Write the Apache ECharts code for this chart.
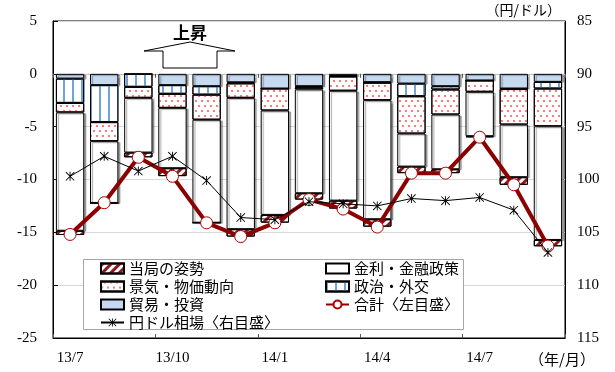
<!DOCTYPE html>
<html lang="ja">
<head>
<meta charset="utf-8">
<title>要因分解と円ドル相場</title>
<script src="https://cdn.jsdelivr.net/npm/echarts@6/dist/echarts.min.js"></script>
<style>
  html, body { margin: 0; padding: 0; background: #fff; }
  #chart { width: 615px; height: 372px; }
</style>
</head>
<body>
<div id="chart"></div>
<script>
// Months (yy/m)
var categories = ['13/7', '13/8', '13/9', '13/10', '13/11', '13/12', '14/1', '14/2', '14/3', '14/4', '14/5', '14/6', '14/7', '14/8', '14/9'];

// Factor contributions (left scale), stacked downward from zero in this order
var trade     = [-0.45, -1.07, 0.00, -1.07, -1.17, -0.80, -1.39, -1.17, -0.20, -0.79, -0.92, -1.17, -0.63, -1.39, -0.76];
var politics  = [-2.30, -3.50, -1.23, -0.82, -0.80, -0.10, 0.00, -0.10, -0.05, -0.05, -1.20, -0.31, 0.00, -0.05, -0.63];
var economy   = [-0.90, -1.80, -1.04, -1.33, -2.37, -1.37, -2.08, -0.20, -1.35, -1.65, -3.53, -2.37, -1.07, -3.36, -3.57];
var interest  = [-11.20, -5.85, -5.18, -5.71, -9.75, -12.43, -9.88, -9.83, -10.40, -11.27, -3.13, -5.18, -4.20, -4.98, -10.76];
var authority = [-0.40, 0.00, -0.45, -0.75, 0.00, -0.70, -0.73, -0.60, -0.75, -0.70, -0.62, -0.37, -0.10, -0.72, -0.60];

// Total (left scale)
var total = [-15.2, -12.2, -7.9, -9.7, -14.1, -15.4, -14.1, -11.9, -12.8, -14.5, -9.4, -9.4, -6.0, -10.5, -16.3];

// Yen per dollar (right scale, inverted)
var usdjpy = [99.7, 97.8, 99.2, 97.8, 100.1, 103.6, 103.8, 102.1, 102.3, 102.5, 101.8, 102.0, 101.7, 102.9, 106.9];

// Axis ticks
var leftTicks = { min: -25, max: 5, interval: 5 };
var rightTicks = { min: 85, max: 115, interval: 5 };

var NUM_FONT = 'Liberation Serif';
var JP_FONT = 'Noto Sans CJK JP';

var DARK_RED = '#8B0000';

// plain segments get a soft drop shadow; patterned ones don't,
// since the shadow would also be cast by every stripe/dot of the pattern
var plainStyle = {
  borderColor: '#000',
  borderWidth: 1,
  shadowColor: 'rgba(0,0,0,0.35)',
  shadowBlur: 1,
  shadowOffsetX: 2,
  shadowOffsetY: 1
};
var patternStyle = {
  borderColor: '#000',
  borderWidth: 1
};

function barSeries(name, data, base, style) {
  return {
    name: name,
    type: 'bar',
    stack: 'factors',
    data: data,
    barCategoryGap: '17%',
    z: 2,
    itemStyle: Object.assign({}, base, style)
  };
}

var asterisk = 'path://M4.5,0H5.5V10H4.5Z M0,0.7L0.7,0L10,9.3L9.3,10Z M9.3,0L10,0.7L0.7,10L0,9.3Z';

var legendText = { color: '#000', fontFamily: JP_FONT, fontSize: 15, lineHeight: 15 };

var chart = echarts.init(document.getElementById('chart'), null, { renderer: 'canvas' });

chart.setOption({
  animation: false,
  backgroundColor: '#fff',
  grid: {
    left: 53, right: 50, top: 21, bottom: 34,
    show: true, borderColor: '#000', borderWidth: 1, backgroundColor: 'transparent'
  },
  xAxis: [
    {
      type: 'category', data: categories, position: 'bottom',
      axisLine: { onZero: false, lineStyle: { color: '#000', width: 1 } },
      axisTick: { show: false },
      axisLabel: { interval: 2, margin: 13, color: '#000', fontFamily: NUM_FONT, fontSize: 15 },
      name: '（年/月）', nameLocation: 'end', nameGap: 0,
      nameTextStyle: { color: '#000', fontFamily: JP_FONT, fontSize: 15, align: 'right', verticalAlign: 'top', padding: [14, -30, 0, 0] }
    },
    {
      type: 'category', data: categories, position: 'bottom',
      axisLine: { onZero: true, lineStyle: { color: '#BFBFBF', width: 1 } },
      axisTick: { show: true, interval: 2, length: 4, lineStyle: { color: '#595959' } },
      axisLabel: { show: false }
    },
    {
      type: 'category', data: categories, position: 'bottom',
      axisLine: { show: false, onZero: true },
      axisTick: { show: true, inside: true, interval: 2, length: 4, lineStyle: { color: '#595959' } },
      axisLabel: { show: false }
    }
  ],
  yAxis: [
    {
      type: 'value', position: 'left',
      min: leftTicks.min, max: leftTicks.max, interval: leftTicks.interval,
      axisLine: { show: true, lineStyle: { color: '#000' } },
      axisTick: { show: true, inside: true, length: 5, lineStyle: { color: '#000' } },
      axisLabel: { margin: 16, color: '#000', fontFamily: NUM_FONT, fontSize: 15 },
      splitLine: { show: true, lineStyle: { color: '#D9D9D9', width: 1 } }
    },
    {
      type: 'value', position: 'right', inverse: true,
      min: rightTicks.min, max: rightTicks.max, interval: rightTicks.interval,
      axisLine: { show: true, lineStyle: { color: '#000' } },
      axisTick: { show: false },
      axisLabel: { margin: 12, color: '#000', fontFamily: NUM_FONT, fontSize: 15 },
      splitLine: { show: false },
      // the axis is inverted, so its top end is the "start"
      name: '（円/ドル）', nameLocation: 'start', nameGap: 4,
      nameTextStyle: { color: '#000', fontFamily: JP_FONT, fontSize: 14, align: 'right', verticalAlign: 'bottom', padding: [0, 4, 0, 0] }
    }
  ],
  legend: [
    {
      orient: 'vertical', left: 100, top: 261, padding: 0, itemGap: 3,
      itemWidth: 23, itemHeight: 10, textStyle: legendText, z: 6,
      data: [
        { name: '当局の姿勢', icon: 'rect' },
        { name: '景気・物価動向', icon: 'rect' },
        { name: '貿易・投資', icon: 'rect' },
        '円ドル相場〈右目盛〉'
      ]
    },
    {
      orient: 'vertical', left: 325, top: 261, padding: 0, itemGap: 3,
      itemWidth: 23, itemHeight: 10, textStyle: legendText, z: 6,
      data: [
        { name: '金利・金融政策', icon: 'rect' },
        { name: '政治・外交', icon: 'rect' },
        '合計〈左目盛〉'
      ]
    }
  ],
  graphic: [
    {
      type: 'rect', z: 5,
      shape: { x: 83.5, y: 259.5, width: 380, height: 70 },
      style: { fill: '#fff', stroke: '#A6A6A6', lineWidth: 1 }
    },
    {
      type: 'polygon', z: 5,
      shape: { points: [[144, 51], [190, 42], [235, 51], [217, 51], [217, 68], [163, 68], [163, 51]] },
      style: { fill: '#fff', stroke: '#000', lineWidth: 1 }
    },
    {
      type: 'text', z: 5, left: 173, top: 24,
      style: { text: '上昇', fill: '#000', font: 'bold 17px "Noto Sans CJK JP", sans-serif' }
    }
  ],
  series: [
    barSeries('貿易・投資', trade, plainStyle, { color: '#C5D9F1' }),
    barSeries('政治・外交', politics, patternStyle, {
      color: '#fff',
      decal: { symbol: 'rect', color: '#6FA3DC', dashArrayX: [1.8, 6.5], dashArrayY: [1, 0], symbolSize: 1 }
    }),
    barSeries('景気・物価動向', economy, patternStyle, {
      color: '#fff',
      decal: { symbol: 'circle', color: '#FF3B3B', symbolSize: 0.9, dashArrayX: [[2, 3.5], [0, 2.75, 2, 0.75]], dashArrayY: [2, 2.5] }
    }),
    barSeries('金利・金融政策', interest, plainStyle, { color: '#fff' }),
    barSeries('当局の姿勢', authority, patternStyle, {
      color: '#fff',
      decal: { symbol: 'rect', color: '#8B1A1A', dashArrayX: [1, 0], dashArrayY: [3, 3], rotation: -Math.PI / 4, symbolSize: 1 }
    }),
    {
      name: '合計〈左目盛〉', type: 'line', data: total, z: 3,
      lineStyle: { color: DARK_RED, width: 4 },
      symbol: 'circle', symbolSize: 12, showAllSymbol: true,
      itemStyle: { color: '#fff', borderColor: '#B00000', borderWidth: 1 }
    },
    {
      name: '円ドル相場〈右目盛〉', type: 'line', yAxisIndex: 1, data: usdjpy, z: 4,
      lineStyle: { color: '#000', width: 1 },
      symbol: asterisk, symbolSize: 9, showAllSymbol: true,
      itemStyle: { color: '#000' }
    }
  ]
});
</script>
</body>
</html>
